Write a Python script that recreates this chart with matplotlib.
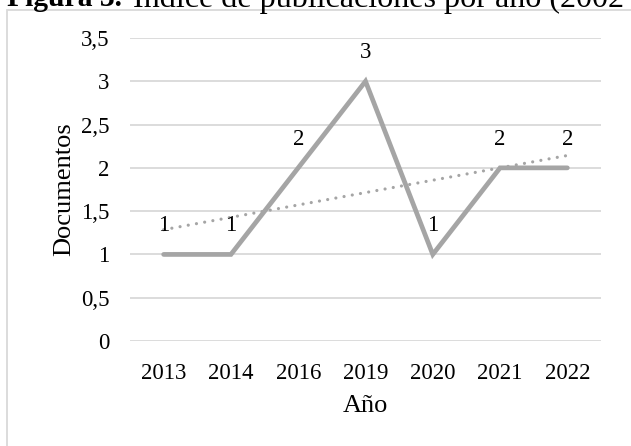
import numpy as np
import matplotlib
matplotlib.use('Agg')
import matplotlib.pyplot as plt
from matplotlib.patches import Rectangle
from matplotlib.ticker import FuncFormatter

# publications per year
years = ['2013', '2014', '2016', '2019', '2020', '2021', '2022']
documentos = [1, 1, 2, 3, 1, 2, 2]
y_ticks = [0, 0.5, 1, 1.5, 2, 2.5, 3, 3.5]

plt.rcParams['font.family'] = ['Liberation Serif', 'DejaVu Serif']

W, H = 631, 446
fig = plt.figure(figsize=(W / 100, H / 100), dpi=100)
ax = fig.add_axes([130 / W, 1 - 341 / H, 471 / W, 303 / H])

grey = '#a5a5a5'
x = np.arange(len(years))
ax.plot(x, documentos, color=grey, lw=3.4, solid_capstyle='round',
        solid_joinstyle='miter', zorder=3)

# linear trend line (as in the spreadsheet)
slope, intercept = np.polyfit(x + 1, documentos, 1)
ax.plot(x, slope * (x + 1) + intercept, color=grey, lw=2.3,
        linestyle=(0, (0.01, 2.6)), dash_capstyle='round', zorder=2)

for xi, v in zip(x, documentos):
    ax.annotate(str(v), (xi, v), xytext=(0, 13), textcoords='offset points',
                ha='center', va='bottom', fontsize=16.5, color='black')

ax.set_xlim(-0.5, len(years) - 0.5)
ax.set_ylim(0, 3.5)
ax.set_xticks(x)
ax.set_xticklabels(years)
ax.set_yticks(y_ticks)
ax.yaxis.set_major_formatter(FuncFormatter(
    lambda v, p: ('%g' % v).replace('.', ',')))
ax.tick_params(length=0, labelsize=16.5, colors='black')
ax.tick_params(axis='y', pad=15)
ax.tick_params(axis='x', pad=16)
ax.grid(axis='y', color='#d9d9d9', lw=1.3)
ax.set_axisbelow(True)
for s in ax.spines.values():
    s.set_visible(False)

ax.set_ylabel('Documentos', fontsize=19, labelpad=4)
ax.set_xlabel('Año', fontsize=19, labelpad=8)

# chart frame (cut off at the right and bottom)
fig.patches.append(Rectangle((7 / W, -0.1), 1.2, 1.1 - 9.5 / H,
                             transform=fig.transFigure, fill=False,
                             edgecolor='#d9d9d9', lw=1.3))

# caption above the chart, cropped at the top like the source image
renderer = fig.canvas.get_renderer()
base_y = 1 - 6.5 / H
t1 = fig.text(7 / W, base_y, 'Figura 3.', fontsize=16, fontweight='bold',
              ha='left', va='baseline')
w1 = t1.get_window_extent(renderer).width
t1.set_fontsize(16 * 116 / w1)
probe = fig.text(0, 0, 'Índice de publicaciones por año ', fontsize=16)
w2 = probe.get_window_extent(renderer).width
probe.remove()
fig.text(133 / W, base_y, 'Índice de publicaciones por año (2002 - 2022)',
         fontsize=16 * 417 / w2, ha='left', va='baseline')

fig.savefig('out.png', dpi=100)
